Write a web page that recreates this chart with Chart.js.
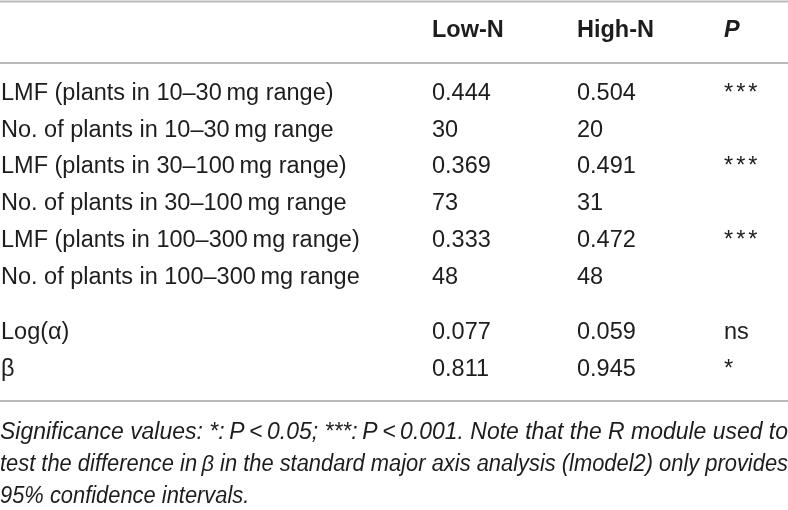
<!DOCTYPE html>
<html>
<head>
<meta charset="utf-8">
<script src="https://cdn.jsdelivr.net/npm/chart.js@4.4.0/dist/chart.umd.min.js"></script>
<style>
html, body { margin: 0; padding: 0; background: #fff; }
#wrap { width: 788px; height: 510px; }
</style>
</head>
<body>
<div id="wrap"><canvas id="table" width="788" height="510"></canvas></div>
<script>
const columns = ["", "Low-N", "High-N", "P"];
const rowLabels = [
	"LMF (plants in 10–30\u2009mg range)",
	"No. of plants in 10–30\u2009mg range",
	"LMF (plants in 30–100\u2009mg range)",
	"No. of plants in 30–100\u2009mg range",
	"LMF (plants in 100–300\u2009mg range)",
	"No. of plants in 100–300\u2009mg range",
	"Log(α)",
	"β",
];
const lowN = ["0.444", "30", "0.369", "73", "0.333", "48", "0.077", "0.811"];
const highN = ["0.504", "20", "0.491", "31", "0.472", "48", "0.059", "0.945"];
const pValues = ["***", "", "***", "", "***", "", "ns", "*"];
const footnote = [
	"Significance values: *:\u2009P\u2009<\u20090.05; ***:\u2009P\u2009<\u20090.001. Note that the R module used to",
	"test the difference in\u2009β in the standard major axis analysis (lmodel2) only provides",
	"95% confidence intervals.",
];

// layout (scale units, the scales span the whole canvas)
const W = 788;
const colX = [1, 432, 577, 724];
const headerY = 37;
const firstRowY = 100;
const rowStep = 36.7;
const groupGap = 19;
const rules = [1.5, 63, 401];
const footY = [439, 471, 503];

const bodyFont = "23.5px 'Liberation Sans', Arial, sans-serif";
const headFont = "bold 23.5px 'Liberation Sans', Arial, sans-serif";
const headItalic = "italic bold 23.5px 'Liberation Sans', Arial, sans-serif";
const footFont = "italic 23px 'Liberation Sans', Arial, sans-serif";
const ink = "#1d1d1d";

function rowY(i) {
	return firstRowY + i * rowStep + (i >= 6 ? groupGap : 0);
}

function cells(values, col, font) {
	return {
		data: values.map((v, i) => ({ x: colX[col], y: rowY(i) })),
		texts: values,
		font: font,
		pointRadius: 0,
	};
}

const headerSet = {
	data: columns.map((c, i) => ({ x: colX[i], y: headerY })),
	texts: columns,
	fonts: [headFont, headFont, headFont, headItalic],
	pointRadius: 0,
};

const tableText = {
	id: "tableText",
	afterDatasetsDraw(chart) {
		const ctx = chart.ctx;
		const x = chart.scales.x;
		const y = chart.scales.y;
		ctx.save();

		// horizontal rules
		ctx.strokeStyle = "#b9b9b9";
		ctx.lineWidth = 2;
		rules.forEach((r) => {
			const py = y.getPixelForValue(r);
			ctx.beginPath();
			ctx.moveTo(x.getPixelForValue(0), py);
			ctx.lineTo(x.getPixelForValue(W), py);
			ctx.stroke();
		});

		// cells
		ctx.fillStyle = ink;
		ctx.textBaseline = "alphabetic";
		chart.data.datasets.forEach((ds, di) => {
			const meta = chart.getDatasetMeta(di);
			meta.data.forEach((pt, i) => {
				ctx.font = ds.fonts ? ds.fonts[i] : ds.font;
				const t = ds.texts[i];
				ctx.letterSpacing = t.indexOf("*") >= 0 ? "3px" : "0px";
				ctx.fillText(t, pt.x, pt.y);
			});
		});
		ctx.letterSpacing = "0px";

		// footnote, justified like the journal layout
		ctx.font = footFont;
		const left = x.getPixelForValue(0);
		const right = x.getPixelForValue(W);
		const width = right - left;
		let sx = 1;
		footnote.forEach((line, li) => {
			const py = y.getPixelForValue(footY[li]);
			const last = li === footnote.length - 1;
			const words = line.split(" ");
			const natural = ctx.measureText(line).width;
			if (!last) sx = Math.min(1, width / natural);
			ctx.save();
			ctx.translate(left, py);
			ctx.scale(sx, 1);
			if (last) {
				ctx.fillText(line, 0, 0);
			} else {
				const wordsW = words.reduce((s, w) => s + ctx.measureText(w).width, 0);
				const gap = (width / sx - wordsW) / (words.length - 1);
				let cx = 0;
				words.forEach((w) => {
					ctx.fillText(w, cx, 0);
					cx += ctx.measureText(w).width + gap;
				});
			}
			ctx.restore();
		});

		ctx.restore();
	},
};

new Chart(document.getElementById("table"), {
	type: "scatter",
	data: {
		datasets: [
			headerSet,
			cells(rowLabels, 0, bodyFont),
			cells(lowN, 1, bodyFont),
			cells(highN, 2, bodyFont),
			cells(pValues, 3, bodyFont),
		],
	},
	options: {
		responsive: false,
		animation: false,
		events: [],
		layout: { padding: 0 },
		plugins: { legend: { display: false }, tooltip: { enabled: false } },
		scales: {
			x: { type: "linear", min: 0, max: W, display: false },
			y: { type: "linear", min: 0, max: 510, reverse: true, display: false },
		},
	},
	plugins: [tableText],
});
</script>
</body>
</html>
